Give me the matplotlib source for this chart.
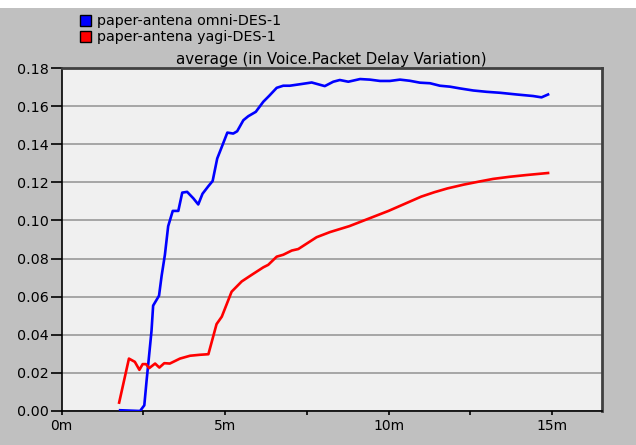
import matplotlib
matplotlib.use("Agg")
import matplotlib.pyplot as plt
from matplotlib.patches import Rectangle
from matplotlib.ticker import MultipleLocator, FuncFormatter

plt.rcParams['font.family'] = ['DejaVu Sans']

# Simulation time (minutes) and average voice packet delay variation (s)
omni_t = [1.79, 2.40, 2.53, 2.60, 2.67, 2.75, 2.80, 2.98, 3.06, 3.16, 3.26, 3.40,
          3.57, 3.69, 3.84, 4.03, 4.18, 4.31, 4.49, 4.62, 4.76, 4.90, 5.07, 5.25,
          5.37, 5.56, 5.71, 5.94, 6.17, 6.35, 6.58, 6.78, 6.98, 7.34, 7.65, 8.05,
          8.31, 8.51, 8.77, 9.13, 9.43, 9.74, 10.04, 10.35, 10.65, 10.96, 11.27,
          11.57, 11.88, 12.18, 12.59, 13.00, 13.41, 13.92, 14.42, 14.68, 14.88]
omni_v = [0.0004, 0.0000, 0.0030, 0.0160, 0.0280, 0.0420, 0.0553, 0.0605, 0.0710,
          0.0820, 0.0970, 0.1050, 0.1050, 0.1146, 0.1150, 0.1116, 0.1084, 0.1140,
          0.1180, 0.1207, 0.1325, 0.1386, 0.1461, 0.1456, 0.1468, 0.1526, 0.1547,
          0.1570, 0.1623, 0.1654, 0.1696, 0.1707, 0.1707, 0.1716, 0.1724, 0.1705,
          0.1728, 0.1737, 0.1728, 0.1742, 0.1739, 0.1732, 0.1732, 0.1739, 0.1733,
          0.1723, 0.1720, 0.1707, 0.1702, 0.1693, 0.1682, 0.1675, 0.1670, 0.1661,
          0.1653, 0.1646, 0.1661]

yagi_t = [1.76, 2.06, 2.24, 2.38, 2.48, 2.58, 2.68, 2.86, 2.99, 3.14, 3.31, 3.62,
          3.93, 4.23, 4.49, 4.74, 4.90, 5.20, 5.51, 5.81, 6.17, 6.32, 6.58, 6.78,
          7.04, 7.24, 7.80, 8.21, 8.80, 9.40, 10.00, 10.60, 11.00, 11.40, 11.80,
          12.30, 12.80, 13.20, 13.70, 14.20, 14.88]
yagi_v = [0.0044, 0.0275, 0.0258, 0.0216, 0.0246, 0.0246, 0.0225, 0.0249, 0.0228,
          0.0251, 0.0249, 0.0275, 0.0290, 0.0295, 0.0298, 0.0456, 0.0495, 0.0626,
          0.0680, 0.0714, 0.0754, 0.0767, 0.0810, 0.0820, 0.0842, 0.0850, 0.0912,
          0.0939, 0.0970, 0.1010, 0.1050, 0.1095, 0.1125, 0.1148, 0.1168, 0.1188,
          0.1205, 0.1218, 0.1229, 0.1238, 0.1249]

series_names = ["paper-antena omni-DES-1", "paper-antena yagi-DES-1"]
series_colors = ["#0000ff", "#ff0000"]
title_text = "average (in Voice.Packet Delay Variation)"

fig = plt.figure(figsize=(6.36, 4.45), dpi=100, facecolor="#c0c0c0")
W, H = 636, 445

# white strip along the top edge
fig.patches.append(Rectangle((0, 1 - 8 / H), 1, 8 / H, transform=fig.transFigure,
                             facecolor="white", edgecolor="none", zorder=0))

ax = fig.add_axes([61.6 / W, 1 - 411 / H, (602 - 61.6) / W, (411 - 68) / H])
ax.set_facecolor("#f0f0f0")

ax.plot(omni_t, omni_v, color=series_colors[0], lw=1.9, zorder=3)
ax.plot(yagi_t, yagi_v, color=series_colors[1], lw=1.9, zorder=3)

ax.set_xlim(0, 16.53)
ax.set_ylim(0, 0.18)
ax.xaxis.set_major_locator(MultipleLocator(5))
ax.xaxis.set_minor_locator(MultipleLocator(2.5))
ax.xaxis.set_major_formatter(FuncFormatter(lambda v, p: f"{int(round(v))}m"))
ax.yaxis.set_major_locator(MultipleLocator(0.02))
ax.yaxis.set_major_formatter(FuncFormatter(lambda v, p: f"{v:.2f}"))
ax.yaxis.grid(True, color="#a0a0a0", lw=1.3)
ax.set_axisbelow(True)

ax.tick_params(axis="both", which="both", direction="out", width=1.2,
               color="black", labelcolor="black")
ax.tick_params(axis="y", length=8, pad=1.2, labelsize=10.3)
ax.tick_params(axis="x", which="both", length=3.2, pad=2.5, labelsize=10)

for side in ("left", "bottom"):
    ax.spines[side].set_color("black")
    ax.spines[side].set_linewidth(1.2)
for side in ("top", "right"):
    ax.spines[side].set_color("#404040")
    ax.spines[side].set_linewidth(2.0)

ax.set_title(title_text, fontsize=10.8, pad=3, color="black")

# legend in the top-left corner of the figure
for i, (name, col) in enumerate(zip(series_names, series_colors)):
    y_top = 15 + i * 16
    fig.patches.append(Rectangle((80 / W, 1 - (y_top + 11) / H), 11 / W, 11 / H,
                                 transform=fig.transFigure, facecolor=col,
                                 edgecolor="black", lw=1.0, zorder=2))
    fig.text(97 / W, 1 - (y_top + 5.5) / H, name, fontsize=10.3, va="center",
             ha="left", color="black")

fig.savefig("out.png", dpi=100, facecolor=fig.get_facecolor())
